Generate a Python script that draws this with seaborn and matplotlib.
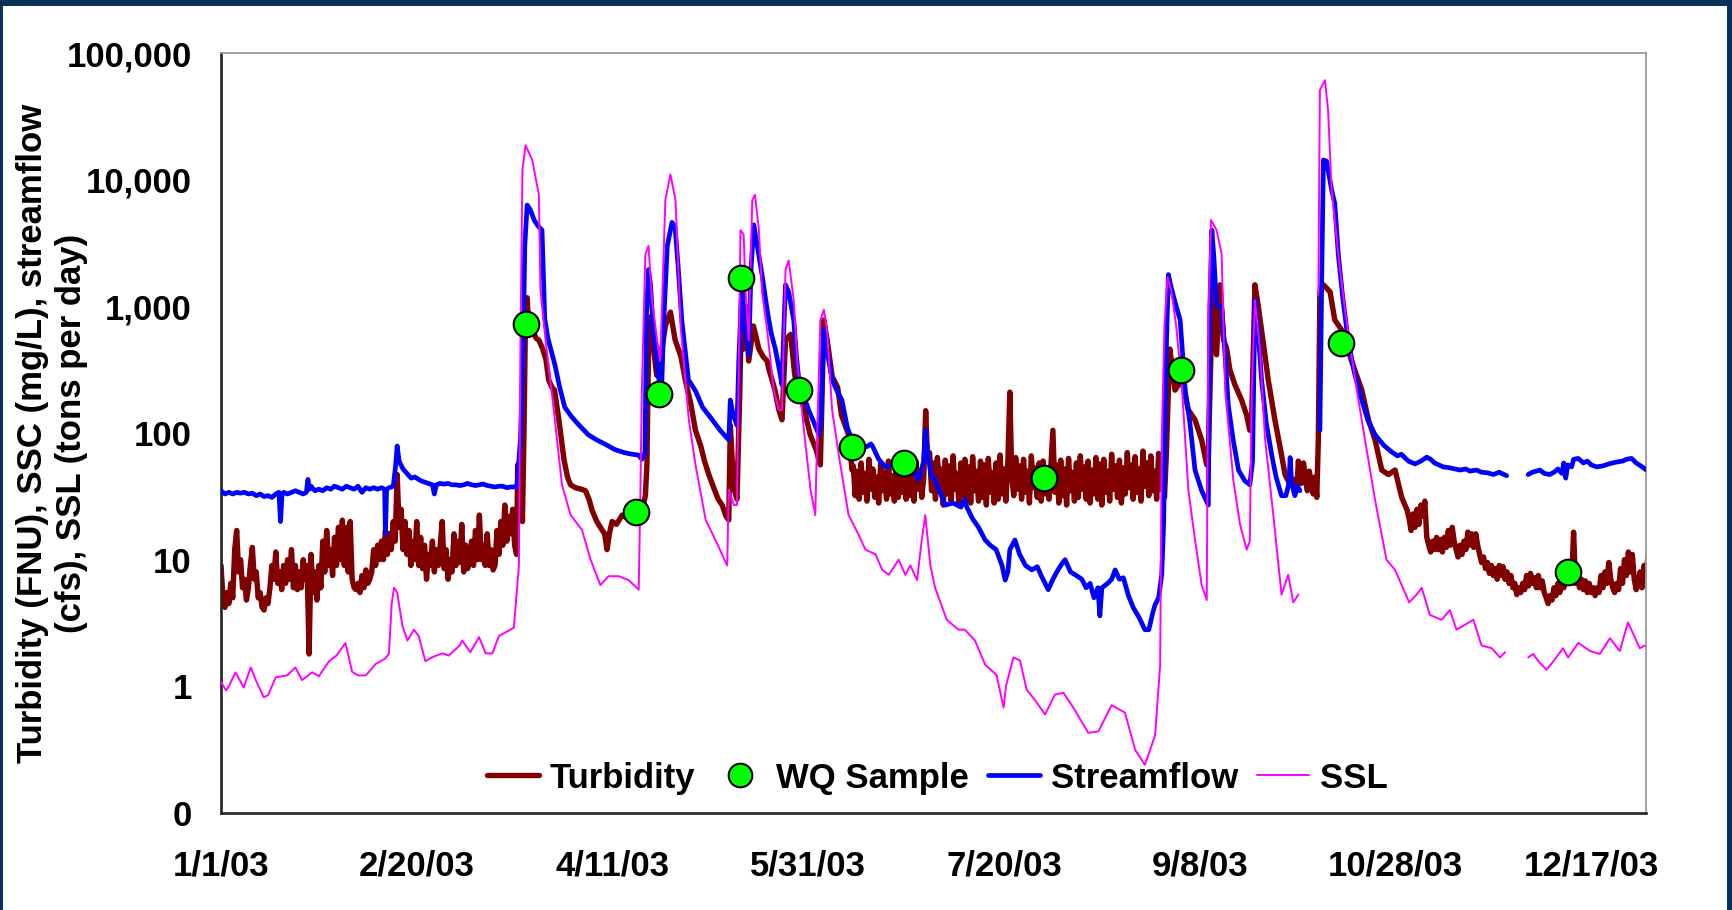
import numpy as np
import pandas as pd
import matplotlib
matplotlib.use("Agg")
import matplotlib.pyplot as plt
import matplotlib.dates as mdates
from matplotlib.ticker import FixedLocator, NullFormatter, LogLocator
from matplotlib.lines import Line2D
from matplotlib.patches import Rectangle
import seaborn as sns

START = pd.Timestamp("2003-01-01")

# ---------------------------------------------------------------- data
# Turbidity (FNU). Quiet periods are 12-hourly readings, storm periods are
# (day-of-year, value) points.
TURB_JAN_MAR_START = 0.0
TURB_JAN_MAR = [
    9, 5, 4.2, 5.5, 4.5, 6.5, 5, 12, 17, 8,
    10, 6, 7, 4.8, 6, 9, 12.5, 7, 8, 5,
    5.5, 4.2, 4, 5, 4.5, 6, 9, 7, 11.5, 6.5,
    8, 5.8, 9, 6.5, 10, 7, 12, 6, 9, 5.8,
    8, 6, 10, 7, 9, 1.8, 11, 5.5, 8, 4.8,
    9, 6, 14, 8, 17, 9, 12, 7.5, 15, 9,
    18, 10, 20.5, 9, 18, 8, 20, 7, 6, 5.8,
    6.5, 5.5, 7.5, 6, 8.3, 6.5, 7, 8, 12, 9,
    13, 10, 14, 10, 17, 11, 16, 12, 20, 14,
    47, 18, 25, 12, 20, 11, 17, 9, 14, 10,
    20, 9, 15, 8.5, 13, 7, 11, 9, 14, 8,
    12, 9, 13, 20, 8.5, 12, 7, 10, 8, 16,
    9, 14, 9.5, 19, 8, 13, 8.5, 10, 14, 9,
    17, 10, 22.5, 10, 13, 9, 16, 9, 12, 8.3,
    9, 17, 11, 20, 13, 27, 14, 22, 16, 25,
    13]

TURB_SPRING_DAY = [
    75.5, 75.8, 76.2, 76.7, 77.0, 77.4, 77.8, 78.2, 78.6, 79.5, 80.5, 81.2,
    82.2, 83.0, 83.7, 84.5, 85.2, 86.3, 87.6, 88.5, 89.3, 90.5, 92.0, 93.1,
    94.0, 94.8, 96.0, 97.3, 98.0, 98.6, 99.2, 99.9, 101.0, 102.5, 104.0,
    105.9, 107.0, 108.0, 108.4, 108.8, 109.3, 109.8, 110.5, 111.3, 112.2,
    113.5, 114.8, 116.0, 117.5, 118.6, 120.0, 121.2, 122.5, 123.5, 124.6,
    126.0, 127.0, 128.0, 129.0, 129.7, 130.1, 130.6, 131.2, 131.8, 132.5,
    133.0, 133.5, 134.0, 134.8, 136.0, 137.4, 138.5, 139.5, 140.0, 141.5,
    142.5, 143.3, 144.2, 145.5, 146.5, 147.5, 148.5, 150.5, 152.0, 153.1,
    154.0, 155.0, 156.1, 157.5, 158.5, 160.3, 161.2]
TURB_SPRING_VAL = [
    11, 56, 25, 30, 20, 105, 940, 1170, 700, 650, 560, 540,
    460, 380, 263, 230, 218, 127, 62, 45, 39, 37, 36, 35,
    30, 24.5, 20, 17.2, 16, 12, 16, 20, 19, 22.5, 21,
    24, 25, 28, 32, 56, 780, 830, 460, 285, 370,
    700, 900, 543, 400, 263, 170, 105, 80, 60, 47,
    36, 30, 27, 22, 20.6, 115, 60, 35, 30, 200,
    1120, 460, 1000, 370, 700, 460, 400, 370, 316, 218,
    152, 127, 543, 600, 300, 182, 175, 97, 74, 56,
    780, 500, 280, 230, 138, 97, 51]

TURB_SUMMER_START = 161.5
TURB_SUMMER = [
    55, 32, 50, 30, 58, 34, 48, 29, 62, 36, 52, 31, 45, 28, 57, 35, 49, 30,
    60, 33, 46, 29, 55, 31, 51, 34, 58, 30, 47, 32, 53, 29, 60, 36, 50, 31, 44,
    150, 60,
    70, 35, 58, 30, 64, 38, 52, 27, 61, 33, 55, 29, 66, 36, 48, 27, 58, 32,
    62, 30, 54, 28, 65, 35, 50, 29, 60, 31, 56, 27, 63, 34, 49, 28, 58, 30,
    67, 33, 52, 29,
    60, 210, 45,
    32, 64, 36, 55, 30, 62, 34, 50, 28, 66, 37, 53, 31, 58, 29, 60, 33, 48,
    30, 57,
    105,
    34, 56, 28, 61, 32, 52, 27, 63, 35, 49, 29, 58, 31, 66, 36, 54, 30, 60,
    28, 51, 33, 64, 30, 57, 27, 62, 34, 50, 29, 68, 36, 55, 31, 61, 28, 53,
    33, 70, 37, 56, 30, 65, 34, 52, 29, 72, 38, 58, 32, 66, 35, 50, 30, 69,
    36, 60, 31, 71]

TURB_FALL_DAY = [
    242.0, 242.4, 243.0, 243.7, 245.4, 247.1, 248.8, 250.5, 251.8, 252.2,
    252.9, 253.5, 254.3, 255.2, 256.1, 256.9, 257.7, 259.0, 260.7, 262.0,
    262.8, 263.3, 264.1, 264.9, 266.3, 267.5, 269.2, 270.9, 271.8, 273.1,
    274.3, 274.8, 275.2, 276.0, 276.5, 277.5, 278.0, 279.0, 279.5, 279.9,
    280.3, 280.7, 281.6, 283.3, 284.5, 286.3, 288.8, 291.4, 293.1, 294.8,
    296.5, 298.2, 299.9, 301.6, 303.0]
TURB_FALL_VAL = [
    218, 460, 316, 218, 263, 152, 127, 88, 56, 67,
    460, 1480, 415, 1480, 543, 460, 316, 240, 182, 138,
    105, 138, 1480, 1030, 500, 263, 127, 67, 47, 39,
    43, 36, 60, 40, 58, 35, 50, 33, 45, 31,
    88, 1300, 1480, 1300, 780, 650, 370, 218, 127, 88,
    51, 47, 51, 31, 24.5]

TURB_NOV_DEC_START = 303.5
TURB_NOV_DEC = [
    21, 17, 23, 18, 25, 19, 27, 22, 29, 15,
    13, 11.5, 14, 12, 15, 12, 14.5, 11.5, 15, 12.5,
    17, 13, 18, 14, 12, 10.5, 13, 11, 14, 12,
    16.5, 13, 16, 12.5, 16, 13, 11, 9.5, 10.5, 8.5,
    9.5, 7.8, 9, 7.5, 8.5, 7, 9, 7.5, 8.8, 7,
    8, 6.5, 7.5, 6, 6.5, 5.3, 6, 5.5, 6.5, 5.8,
    7.5, 6.2, 7.8, 6.5, 7.2, 6, 7.5, 6, 6.8, 5.5,
    5, 4.5, 5.2, 4.8, 6, 5.2, 6.5, 5.5, 7, 6,
    7.5, 6.5, 7, 6.5, 16.5, 6.5, 7.5, 6, 7, 5.8,
    6.8, 5.5, 6.5, 5.5, 6, 5.2, 6, 5.5, 7.5, 6,
    8, 6.5, 9.5, 7, 6, 5.5, 6.5, 5.8, 8.5, 6.5,
    10, 7.5, 11.5, 8, 11, 7, 5.8, 6.5, 8, 6,
    9, 7, 11]

# Streamflow (cfs); NaN marks a break in the record
FLOW_DAY = [
    0, 1, 2, 3, 4, 5, 6, 7, 8, 9, 10, 11, 12, 13, 14, 14.8, 15.2, 15.6, 16,
    17, 18, 19, 20, 21, 21.8, 22.2, 22.6, 23, 24, 25, 26, 27, 28, 29, 30, 31,
    32, 33, 34, 35, 36, 37, 38, 39, 40, 41, 41.8, 42, 42.3, 43, 44, 44.6, 45,
    45.5, 46.5, 48, 48.6, 49.5, 51, 52, 53, 54, 54.5, 55, 56, 57, 58, 59, 60,
    61, 62, 63, 64, 65, 66, 67, 68, 69, 70, 71, 72, 73, 74, 75, 75.6, 76.5,
    77.2, 77.6, 78.2, 79, 80, 81, 82, 82.7, 83.5, 85.3, 86.5, 87.8, 89.5,
    91.5, 93.8, 96, 98, 100.6, 103, 105, 106.6, 107.5, 108.3, 108.7, 109.2,
    109.7, 110.5, 111.5, 112.2, 112.6, 113.2, 114, 115.2, 116, 116.8, 117.7,
    119.4, 121.2, 123, 125.5, 127.5, 129.7, 130.1, 130.6, 131.2, 131.8,
    132.3, 133.1, 133.6, 134.2, 134.8, 135.4, 136.1, 137, 138.2, 139.5,
    140.5, 141.6, 142.5, 143.3, 143.8, 144.2, 145, 146.3, 147, 147.6, 149,
    150.1, 151.5, 152.7, 153.2, 154, 154.8, 156.1, 157.5, 158.6, 160, 161.2,
    162.5, 163.8, 165, 166, 166.5, 168, 169.7, 171, 172.5, 174, 176, 178.2,
    179.5, 179.9, 180.5, 181.5, 182.4, 183.5, 185, 187, 189, 190, 190.5, 192,
    193.5, 195.2, 196.5, 198, 199.5, 200.3, 201, 201.5, 202.8, 204, 205.5,
    207.1, 208.5, 209.5, 211.3, 212.5, 213.5, 214.5, 215.6, 217, 218.5,
    219.9, 221, 222, 223, 224, 224.5, 225, 226.5, 227.5, 228.4, 229.5, 230.5,
    231.8, 233, 234.5, 236, 237, 238, 238.6, 239.5, 240.3, 240.8, 241.3, 242,
    242.5, 243.3, 244, 245, 246.3, 247.5, 248.8, 250.5, 252.2, 252.6, 253.1,
    253.6, 254.3, 255.6, 256.3, 257.3, 258.5, 259.9, 261.5, 262.8, 263.5,
    264.1, 265, 265.8, 267, 268.4, 269.5, 270.9, 272, 272.8, 273.1, 273.5,
    274.3, 275, 275.6,
    278.0,
    280.7, 281.2, 281.6, 282.4, 283, 283.7, 284.5, 285.4, 286.5, 287.9,
    289.5, 291.4, 293, 294.8, 297, 299, 300.5, 301.5, 303.3, 305, 306.5, 308,
    309, 310, 312.2, 314, 316.5, 318, 319, 320.7, 322, 323.5, 325, 326.5,
    328.4,
    331.0,
    333.9, 335, 336.9, 338, 339.4, 340.5, 341.5, 342.5, 343, 343.5, 344, 345,
    345.5, 346.7, 348, 349, 350, 351.4, 353, 354.5, 356.5, 358, 359, 360.3,
    361.5, 363, 364.1]
FLOW_VAL = [
    35, 33, 34, 33, 34, 33.5, 34, 33, 33.5, 32, 33, 31.5, 32, 31, 33, 34, 20,
    33, 34, 33, 34, 35, 34, 33, 34, 43, 36, 38, 35, 36, 35, 37, 36, 38, 37,
    36, 38, 37, 36, 38, 34, 37, 36, 37, 36, 37, 36, 16, 36, 37, 38, 55, 79,
    60, 52, 46, 44, 45, 42, 41, 40, 39, 33, 39, 40, 39.5, 40, 39, 39, 38.5,
    39, 40, 39, 38.5, 39, 39.5, 38.5, 38, 37.5, 38, 38, 37, 37.5, 37.5, 38,
    90, 500, 3000, 6300, 5800, 4800, 4300, 4000, 800, 560, 345, 230, 160,
    135, 115, 97, 88, 82, 74, 70, 68, 67, 62, 70, 900, 1950, 1500, 600, 330,
    210, 250, 900, 3000, 4600, 4200, 2000, 780, 263, 215, 160, 127, 105, 88,
    182, 150, 130, 115, 400, 1620, 700, 600, 415, 2000, 4400, 3000, 1780,
    940, 620, 460, 330, 240, 700, 1480, 1300, 780, 400, 263, 190, 152, 120,
    97, 120, 650, 450, 263, 210, 182, 110, 88, 82, 80, 78, 82, 78, 62, 54,
    55, 62, 67, 55, 43, 60, 105, 70, 45, 43, 35, 27, 28, 26, 30, 26, 21, 18,
    14.3, 13, 12, 9, 6.9, 8, 12, 14.3, 11, 9, 8.3, 8.8, 7.5, 5.8, 7, 8, 9,
    10, 8, 7.5, 7, 6, 6.5, 5, 6, 3.6, 6, 6.5, 7, 8.3, 7, 7.2, 5.2, 4.2, 3.5,
    2.8, 2.8, 3.8, 4.4, 5, 7.6, 20, 300, 1780, 1500, 1200, 1000, 780, 218,
    120, 51, 35, 27, 1000, 4000, 2500, 1030, 1000, 500, 166, 90, 51, 42, 39,
    60, 1120, 600, 263, 120, 67, 45, 32, 32, 40, 64, 40, 32, 38, 35,
    np.nan,
    105, 2000, 14300, 14000, 11000, 8300, 6500, 2570, 1200, 543, 300, 182,
    125, 97, 80, 71, 66, 68, 60, 57, 60, 64.5, 62, 58, 54, 53, 51, 52, 50,
    51, 49, 48.5, 47, 49, 46,
    np.nan,
    47, 49, 51, 48, 47, 49, 52, 48, 58, 44, 56, 54, 62, 63, 58, 60, 56, 54,
    55, 57, 59, 60, 62, 63, 58, 54, 51]

# Suspended-sediment load (tons per day); NaN marks a break in the record
SSL_DAY = [
    0, 1.3, 2, 3.7, 5.8, 7.6, 9, 10.9, 12, 14, 16.9, 19, 20.7, 23.3, 25,
    27.6, 29.5, 31.8, 33.5, 35, 37, 39.5, 42, 42.9, 43.6, 44.2, 45, 46.3,
    47.6, 49.3, 50.5, 52.2, 54, 56.5, 58.2, 61, 61.6, 63.7, 65.9, 67.6, 69.3,
    71, 73, 74.8, 75.6, 76.1, 76.5, 77, 77.8, 79.5, 81.2, 81.6, 82.9, 85,
    87.1, 89.3, 92.2, 94.4, 96.9, 99, 101.6, 104.1, 106.7, 107.1, 107.5,
    108.4, 109.2, 110.1, 111.4, 112.2, 113.5, 114.8, 116.1, 117.4, 119.5,
    121.2, 123.8, 126.3, 129.3, 129.7, 131, 131.8, 132.7, 133.5, 134, 134.8,
    135.7, 136.4, 137.4, 138.2, 139.5, 141.2, 142.5, 143.3, 144.2, 145,
    146.3, 147.2, 148.9, 150.6, 151.8, 152.3, 153.1, 154, 154.8, 156.1,
    157.8, 160.3, 162.9, 164.6, 167.2, 168.9, 170.6, 173.1, 174.8, 176.1,
    177.8, 179, 179.9, 181.2, 182.4, 184, 185.4, 188.4, 190, 192.6, 195.2,
    198.1, 199.9, 200.5, 202.4, 204.1, 205.8, 207.9, 210.5, 213, 215.2,
    218.1, 221.5, 224.1, 227.5, 230.9, 233.5, 236, 238.6, 239.9, 240.3, 241,
    241.8, 242.8, 244, 245, 245.5, 247.1, 248.8, 250.5, 251.8, 252.2, 252.9,
    254.3, 255.6, 256.5, 258.6, 260.3, 262, 262.8, 263.3, 264.1, 265.4,
    266.7, 268.8, 270.9, 272.6, 273.9, 275.2,
    278.0,
    280.3, 280.7, 282, 282.8, 283.7, 285.4, 287.1, 289.7, 292.2, 294.8,
    297.7, 299.9, 303.5, 305.4, 306.7, 308.8, 311.8, 313.9, 315.6, 319.9,
    322, 324.6, 326.7, 328,
    331.0,
    333.9, 335.2, 336.5, 338.6, 341.1, 342.8, 344.1, 346.7, 349.7, 352.2,
    354.8, 357.3, 359.4, 362.4, 363.7]
SSL_VAL = [
    1.08, 0.93, 1.0, 1.29, 0.98, 1.41, 1.1, 0.82, 0.85, 1.18, 1.22, 1.41,
    1.12, 1.29, 1.2, 1.58, 1.75, 2.2, 1.3, 1.22, 1.22, 1.5, 1.66, 1.82, 4.5,
    6.0, 5.5, 3.05, 2.3, 2.8, 2.5, 1.58, 1.7, 1.82, 1.75, 2.1, 2.3, 1.86,
    2.45, 1.82, 1.82, 2.5, 2.7, 2.9, 5.8, 9, 540, 12000, 18700, 14300, 7600,
    1350, 543, 152, 39, 22.5, 17.2, 10, 6.3, 7.4, 7.4, 6.9, 5.8, 29.5, 218,
    2570, 3000, 1120, 543, 370, 6900, 11000, 6900, 700, 127, 56, 20.6, 14.3,
    9, 35.6, 27, 27, 4000, 3700, 1300, 540, 6900, 7600, 4000, 1300, 650, 218,
    152, 152, 1950, 2300, 1120, 370, 105, 35.6, 22.5, 100, 780, 940, 650,
    152, 67, 22.5, 15.7, 12, 11, 8.3, 7.6, 10, 7.6, 9, 6.9, 14.3, 22.5, 9, 6,
    4.4, 3.35, 2.8, 2.8, 2.3, 1.48, 1.23, 0.68, 1.0, 1.69, 1.6, 0.94, 0.78,
    0.6, 0.86, 0.89, 0.65, 0.43, 0.44, 0.71, 0.62, 0.315, 0.24, 0.41, 1.48,
    89, 700, 1700, 1300, 700, 330, 218, 35.6, 14.3, 6.3, 4.8, 780, 4800, 4000,
    2600, 218, 42, 19, 12, 14, 218, 1120, 450, 89, 22.5, 5.3, 7.6, 4.6, 5.3,
    np.nan,
    1230, 51000, 61000, 35000, 8300, 2570, 940, 263, 89, 29.5, 10, 8.3, 4.6,
    5.3, 6.0, 3.66, 3.35, 4.0, 2.8, 3.35, 2.1, 2.0, 1.69, 1.86,
    np.nan,
    1.69, 1.8, 1.58, 1.35, 1.69, 2.0, 1.69, 2.2, 1.9, 1.8, 2.4, 1.9, 3.2,
    2.0, 2.1]

# Water-quality samples
WQ_DAY = [77.9, 106.1, 112.0, 132.9, 147.6, 161.1, 174.4, 210.2, 245.2, 286.1, 344.2]
WQ_VAL = [720, 24, 202, 1665, 219, 77, 58, 44, 315, 510, 8.0]

X_TICK_LABELS = ["1/1/03", "2/20/03", "4/11/03", "5/31/03", "7/20/03",
                 "9/8/03", "10/28/03", "12/17/03"]
Y_TICKS = [0.1, 1, 10, 100, 1000, 10000, 100000]
Y_TICK_LABELS = ["0", "1", "10", "100", "1,000", "10,000", "100,000"]

C_TURB = "#800000"
C_FLOW = "#0000FF"
C_SSL = "#FF00FF"
C_WQ = "#00FF00"
C_FRAME = "#07305a"
FS = 25


# ---------------------------------------------------------------- frames
def regular(start, values, step=0.5):
    return start + step * np.arange(len(values)), np.asarray(values, float)


def to_frame(days, values):
    df = pd.DataFrame({"day": np.asarray(days, float),
                       "value": np.asarray(values, float)})
    df["segment"] = df["value"].isna().cumsum()
    df = df.dropna().sort_values("day")
    df["date"] = START + pd.to_timedelta(df["day"], unit="D")
    return df


parts = [regular(TURB_JAN_MAR_START, TURB_JAN_MAR),
         (np.array(TURB_SPRING_DAY), np.array(TURB_SPRING_VAL, float)),
         regular(TURB_SUMMER_START, TURB_SUMMER),
         (np.array(TURB_FALL_DAY), np.array(TURB_FALL_VAL, float)),
         regular(TURB_NOV_DEC_START, TURB_NOV_DEC)]
turb = to_frame(np.concatenate([p[0] for p in parts]),
                np.concatenate([p[1] for p in parts]))
flow = to_frame(FLOW_DAY, FLOW_VAL)
ssl = to_frame(SSL_DAY, SSL_VAL)
wq = to_frame(WQ_DAY, WQ_VAL)

# ---------------------------------------------------------------- figure
sns.set_style("white")
plt.rcParams["font.family"] = ["Liberation Sans", "DejaVu Sans"]
plt.rcParams["font.weight"] = "bold"
for key in ("text.color", "axes.labelcolor", "xtick.color", "ytick.color"):
    plt.rcParams[key] = "black"

W, H = 1732, 910
fig = plt.figure(figsize=(W / 100, H / 100), dpi=100)
ax = fig.add_axes([221 / W, 1 - 813 / H, (1646 - 221) / W, (813 - 53) / H])

sns.lineplot(data=turb, x="date", y="value", units="segment", estimator=None,
             sort=False, color=C_TURB, linewidth=3.9, ax=ax, zorder=2)
sns.lineplot(data=flow, x="date", y="value", units="segment", estimator=None,
             sort=False, color=C_FLOW, linewidth=3.4, ax=ax, zorder=3)
sns.lineplot(data=ssl, x="date", y="value", units="segment", estimator=None,
             sort=False, color=C_SSL, linewidth=1.4, ax=ax, zorder=4)
sns.scatterplot(data=wq, x="date", y="value", color=C_WQ, edgecolor="black",
                linewidth=1.5, s=340, ax=ax, zorder=6)

ax.set_yscale("log")
ax.set_ylim(0.1, 100000)
ax.set_xlim(START, START + pd.Timedelta(days=364))

major_dates = pd.to_datetime(X_TICK_LABELS, format="%m/%d/%y")
ax.xaxis.set_major_locator(FixedLocator(mdates.date2num(major_dates)))
ax.set_xticklabels(X_TICK_LABELS)
minor_dates = pd.date_range(START, START + pd.Timedelta(days=364), freq="10D")
ax.xaxis.set_minor_locator(FixedLocator(mdates.date2num(minor_dates)))
ax.xaxis.set_minor_formatter(NullFormatter())

ax.yaxis.set_major_locator(FixedLocator(Y_TICKS))
ax.set_yticklabels(Y_TICK_LABELS)
ax.yaxis.set_minor_locator(LogLocator(base=10, subs=np.arange(2, 10)))
ax.yaxis.set_minor_formatter(NullFormatter())

ax.tick_params(axis="both", which="major", direction="in", length=9,
               width=1.3, color="#111111", labelsize=FS, labelcolor="black")
ax.tick_params(axis="both", which="minor", direction="in", length=6,
               width=1.0, color="#111111")
ax.tick_params(axis="x", which="major", pad=26)
ax.tick_params(axis="y", which="major", pad=21)
ax.tick_params(top=False, right=False, which="both")
for lab in ax.get_xticklabels() + ax.get_yticklabels():
    lab.set_fontweight("bold")

ax.set_xlabel("")
ax.set_ylabel("")
for side in ("left", "bottom"):
    ax.spines[side].set_color("#222222")
    ax.spines[side].set_linewidth(1.9)
for side in ("top", "right"):
    ax.spines[side].set_color("#9a9a9a")
    ax.spines[side].set_linewidth(1.3)

fig.text(52 / W, 1 - 433 / H,
         "Turbidity (FNU), SSC (mg/L), streamflow\n(cfs), SSL (tons per day)",
         rotation=90, ha="center", va="center", multialignment="center",
         fontsize=FS, fontweight="bold", linespacing=1.2, color="black")

handles = [
    Line2D([], [], color=C_TURB, linewidth=3.9),
    Line2D([], [], linestyle="none", marker="o", markersize=17,
           markerfacecolor=C_WQ, markeredgecolor="black", markeredgewidth=1.5),
    Line2D([], [], color=C_FLOW, linewidth=3.4),
    Line2D([], [], color=C_SSL, linewidth=1.4),
]
ax.legend(handles, ["Turbidity", "WQ Sample", "Streamflow", "SSL"],
          loc="center", bbox_to_anchor=(0.5025, 0.046), ncol=4, frameon=False,
          prop={"size": FS, "weight": "bold"}, handlelength=1.5,
          handletextpad=0.3, columnspacing=0.55, borderpad=0, labelcolor="black")

# Dark frame around the slide
fig.add_artist(Rectangle((0, 1 - 6 / H), 1, 6 / H, transform=fig.transFigure,
                         facecolor=C_FRAME, edgecolor="none", zorder=10))
fig.add_artist(Rectangle((0, 0), 2.5 / W, 1, transform=fig.transFigure,
                         facecolor=C_FRAME, edgecolor="none", zorder=10))
fig.add_artist(Rectangle((1 - 5 / W, 0), 5 / W, 1, transform=fig.transFigure,
                         facecolor=C_FRAME, edgecolor="none", zorder=10))

fig.savefig("out.png", dpi=100)
